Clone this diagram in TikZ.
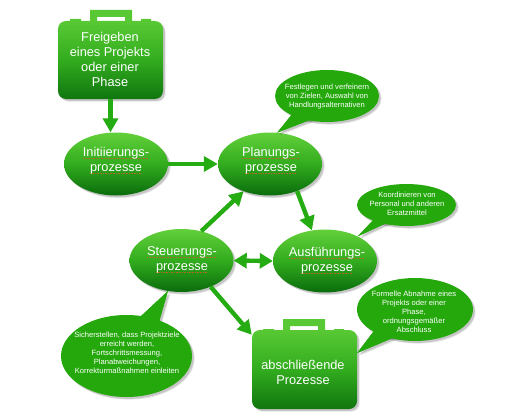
\documentclass[tikz,border=0pt]{standalone}
\usepackage{fontspec}
\setmainfont{Liberation Sans}
\usetikzlibrary{shapes.geometric,arrows.meta,shadows}
\definecolor{gtop}{RGB}{98,208,58}
\definecolor{gmid}{RGB}{50,172,30}
\definecolor{gbot}{RGB}{10,108,12}
\definecolor{bubblegreen}{RGB}{36,168,12}
\definecolor{arrowgreen}{RGB}{36,172,18}
\definecolor{sqred}{RGB}{175,105,40}
\newcommand\sqw[1]{\setbox0\hbox{#1}\rlap{\raisebox{-2pt}{\color{sqred}\hbox to\wd0{\xleaders\hbox{\rule{1pt}{.4pt}\kern.6pt}\hfil}}}\box0}
\tikzset{
  softshadow/.style={
    general shadow={shadow xshift=2.6pt,shadow yshift=-2.6pt,fill=black,opacity=.10},
    general shadow={shadow xshift=1.8pt,shadow yshift=-1.8pt,fill=black,opacity=.14}},
  procell/.style={ellipse,inner sep=0pt,softshadow,top color=gtop,bottom color=gbot,middle color=gmid,minimum width=104pt,minimum height=63pt},
  casebody/.style={rectangle,rounded corners=8pt,inner sep=0pt,softshadow,top color=gtop!80!gmid,bottom color=gbot!85!gmid,middle color=gmid,minimum width=105pt},
  casetop/.style={fill=gtop!80!gmid,even odd rule},
  bubbleell/.style={ellipse,inner sep=0pt,softshadow,fill=bubblegreen},
  bubbletail/.style={fill=bubblegreen,softshadow},
  tailfill/.style={fill=bubblegreen},
  bigtext/.style={text=white,align=center,font=\fontsize{12.8}{15}\selectfont,inner sep=0pt},
  smalltext/.style={text=white,align=center,font=\fontsize{7.6}{9}\selectfont,inner sep=0pt},
  flow/.style={draw=arrowgreen,line width=4.4pt,-{Triangle[width=15pt,length=14pt]}},
  flowboth/.style={draw=arrowgreen,line width=4.4pt,{Triangle[width=15pt,length=13pt]}-{Triangle[width=15pt,length=13pt]}}
}
\begin{document}
\begin{tikzpicture}[x=1pt,y=-1pt]
\useasboundingbox (0,0) rectangle (530,420);
% briefcases
\path[casetop] (90,10) rectangle (132,24) (97,17) rectangle (125,23);
\path[casetop] (70,19) rectangle (81,24) (141,19) rectangle (151,24);
\node[casebody,minimum height=78pt] (freigabe) at (110.5,60) {};
\node[bigtext] (freigabetext) at (110,59) {Freigeben\\eines Projekts\\oder einer\\Phase};
\path[casetop] (283,319) rectangle (325,333) (290,326) rectangle (318,332);
\path[casetop] (263,329) rectangle (274,333) (334,329) rectangle (344,333);
\node[casebody,minimum height=79pt] (abschluss) at (304.5,369.5) {};
\node[bigtext] (abschlusstext) at (303,372) {abschließende\\Prozesse};
% process ellipses
\node[procell] (init) at (116,164) {};
\node[bigtext] (inittext) at (116,160.5) {\sqw{Initiierungs-}\\\sqw{prozesse}};
\node[procell] (plan) at (270,164) {};
\node[bigtext] (plantext) at (271,160.5) {\sqw{Planungs-}\\\sqw{prozesse}};
\node[procell] (steuer) at (181.5,260.5) {};
\node[bigtext] (steuertext) at (182,259.5) {\sqw{Steuerungs-}\\\sqw{prozesse}};
\node[procell] (ausf) at (325,261) {};
\node[bigtext] (ausftext) at (327,260.5) {\sqw{Ausführungs-}\\\sqw{prozesse}};
% speech bubbles
\path[bubbletail] (plan.77) -- (297,108) -- (315,118) -- cycle;
\node[bubbleell,minimum width=104pt,minimum height=52pt] (fest) at (327,96) {};
\path[tailfill] (plan.77) -- (297,108) -- (315,118) -- cycle;
\node[smalltext] (festtext) at (327,97) {Festlegen und verfeinern\\von Zielen, Auswahl von\\Handlungsalternativen};
\path[bubbletail] (ausf.37) -- (378,215) -- (395,219) -- cycle;
\node[bubbleell,minimum width=99pt,minimum height=42pt] (koord) at (406.5,205) {};
\path[tailfill] (ausf.37) -- (378,215) -- (395,219) -- cycle;
\node[smalltext] (koordtext) at (407,204) {Koordinieren von\\Personal und anderen\\Ersatzmittel};
\path[bubbletail] (steuer.246) -- (139,318) -- (159,322) -- cycle;
\node[bubbleell,minimum width=131pt,minimum height=82pt] (sicher) at (126.5,356) {};
\path[tailfill] (steuer.246) -- (139,318) -- (159,322) -- cycle;
\node[smalltext] (sichertext) at (127,353) {Sicherstellen, dass Projektziele\\erreicht werden,\\Fortschrittsmessung,\\Planabweichungen,\\Korrekturmaßnahmen einleiten};
\coordinate (abschlusstip) at ([yshift=16.5pt]abschluss.east);
\path[bubbletail] (abschlusstip) -- (380,323) -- (402,334) -- cycle;
\node[bubbleell,minimum width=116pt,minimum height=63pt] (formal) at (415,309.5) {};
\path[tailfill] (abschlusstip) -- (380,323) -- (402,334) -- cycle;
\node[smalltext] (formaltext) at (414,312) {Formelle Abnahme eines\\Projekts oder einer\\Phase,\\ordnungsgemäßer\\Abschluss};
% connectors
\draw[flow] (freigabe.south) -- (freigabe.south |- init.north);
\draw[flow] (init.east) -- (plan.west);
\draw[flow] (steuer.56) -- (plan.226);
\draw[flow] (plan.315) -- (ausf.113);
\draw[flowboth] (steuer.east) -- (ausf.west);
\draw[flow] (steuer.318) -- ([yshift=-5pt]abschluss.north west);
\end{tikzpicture}
\end{document}
